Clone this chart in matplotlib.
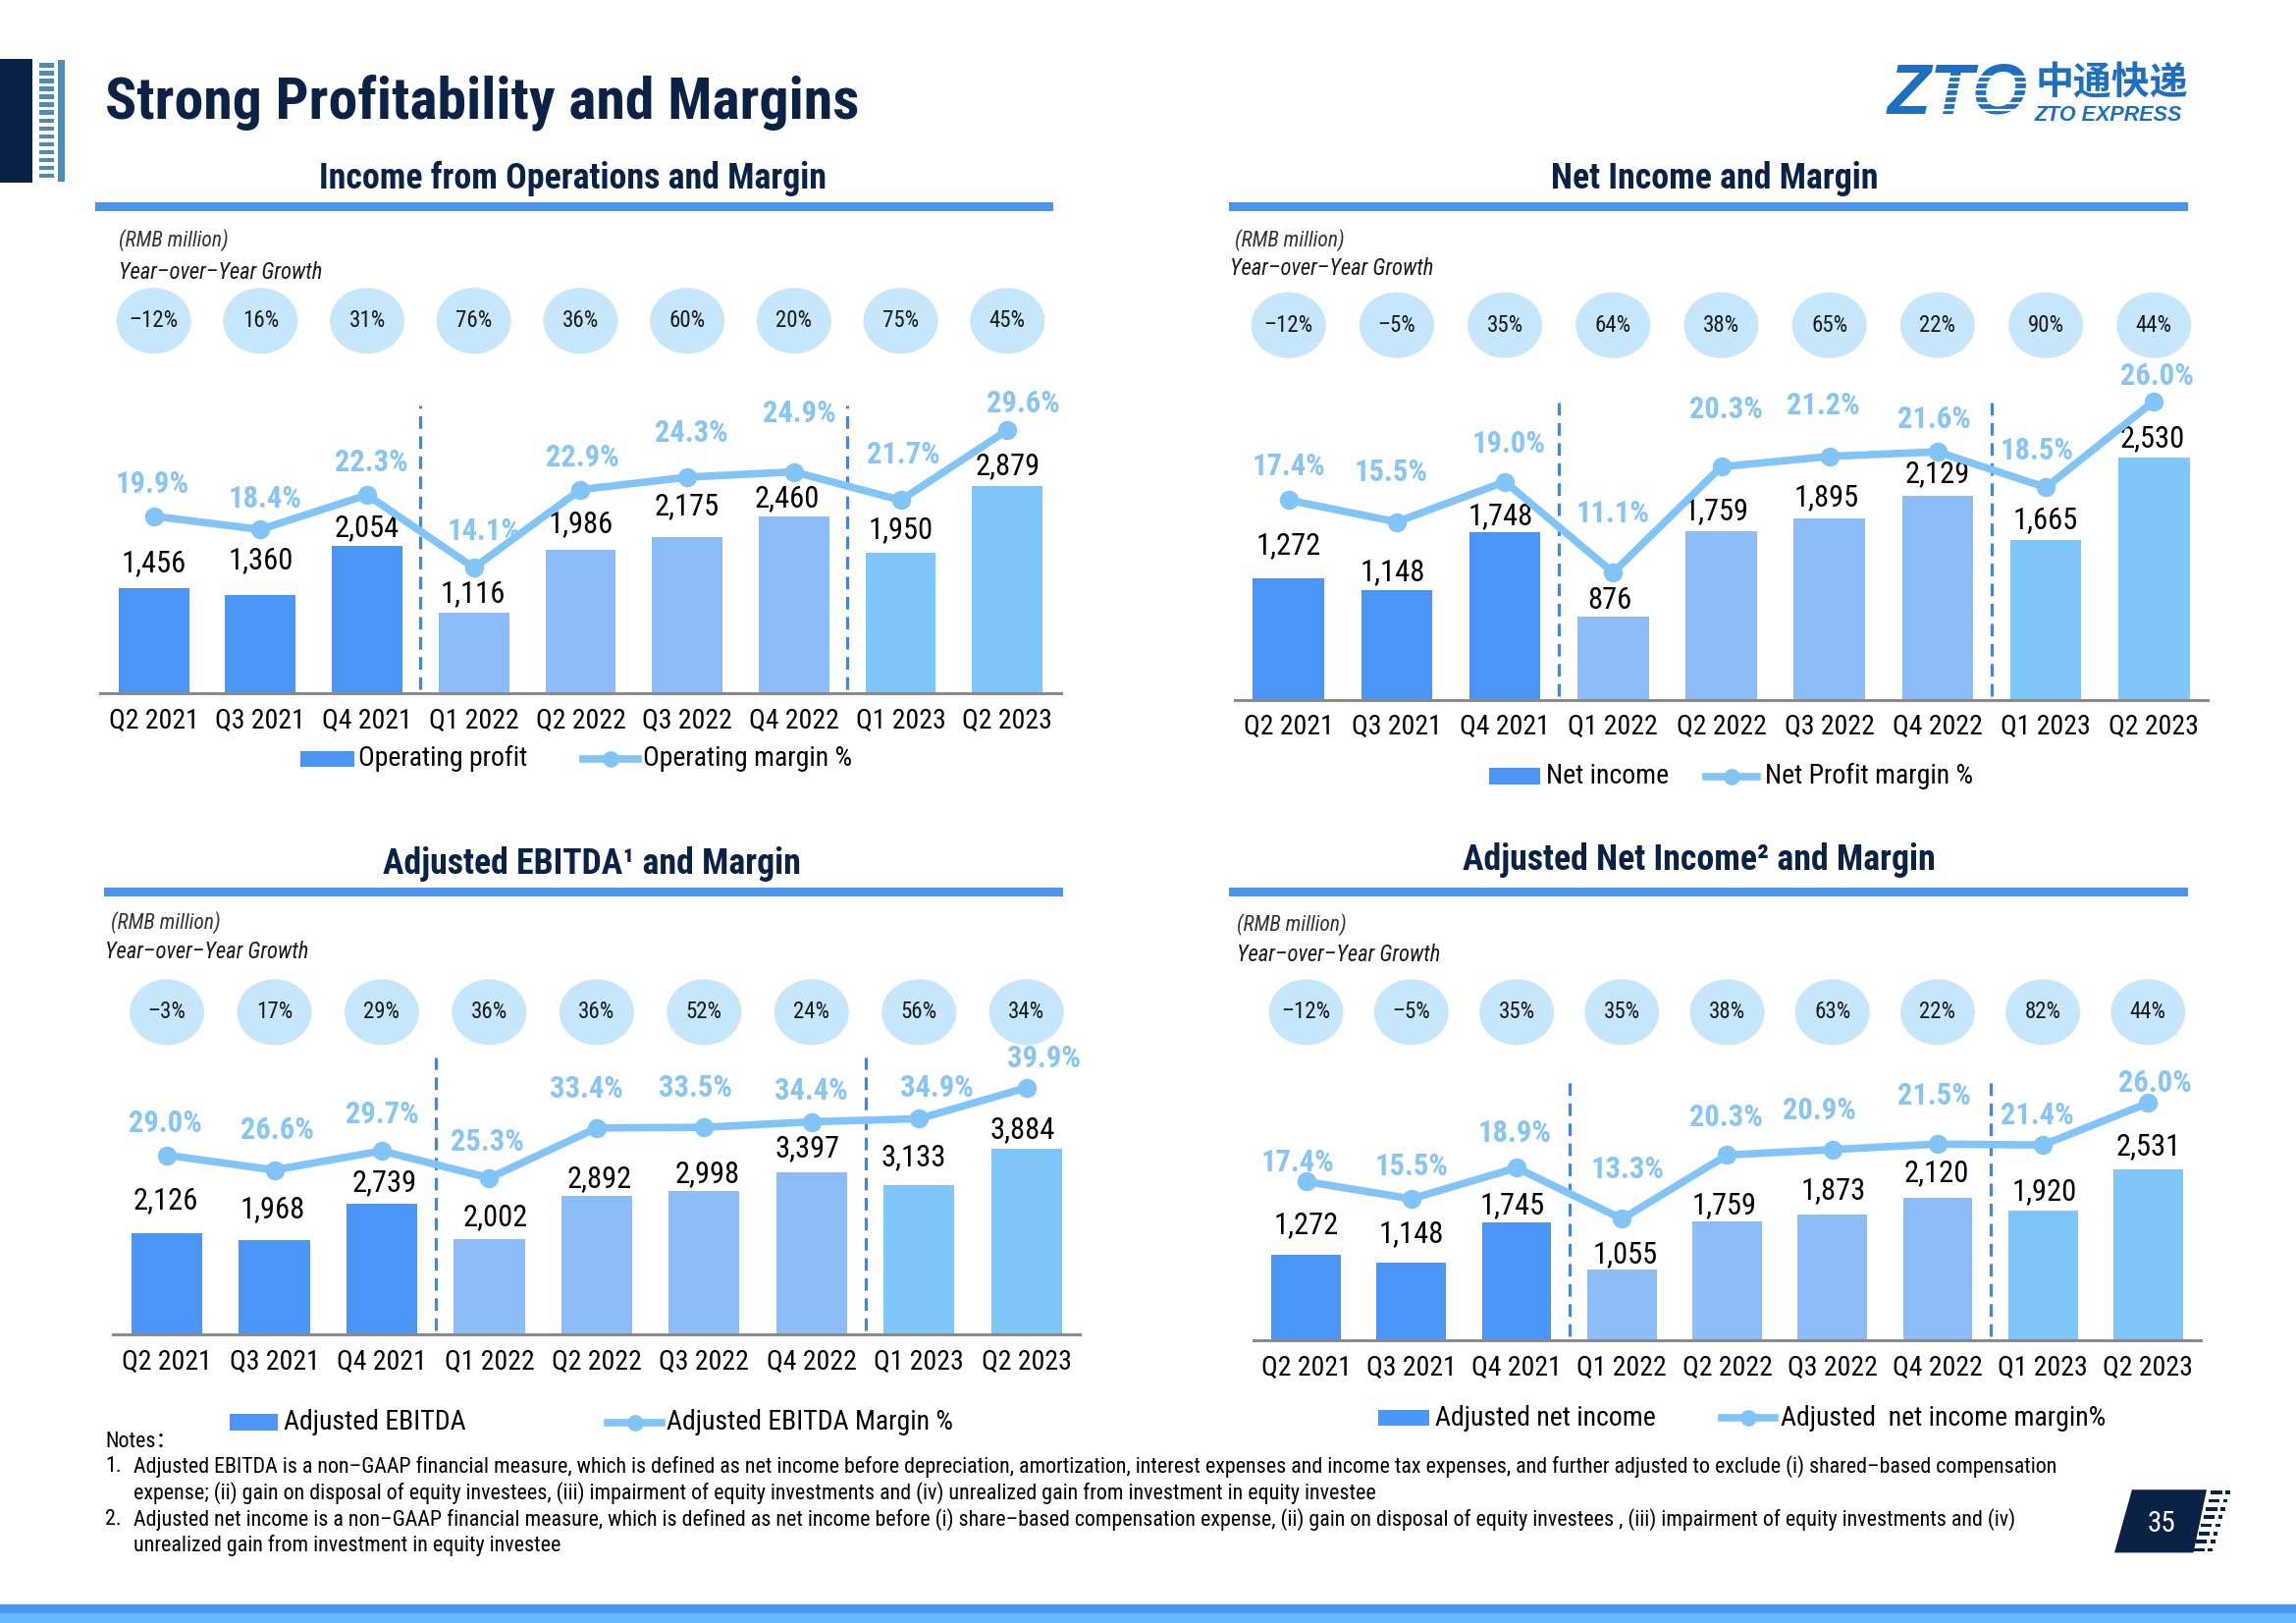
import matplotlib
matplotlib.use("Agg")
import matplotlib.pyplot as plt
from matplotlib import font_manager as fm
from matplotlib.patches import Ellipse, Rectangle, Polygon
from matplotlib.lines import Line2D
from matplotlib.transforms import blended_transform_factory as blend

# ---------------- data ----------------
quarters = ["Q2 2021", "Q3 2021", "Q4 2021", "Q1 2022", "Q2 2022",
            "Q3 2022", "Q4 2022", "Q1 2023", "Q2 2023"]

op_profit = [1456, 1360, 2054, 1116, 1986, 2175, 2460, 1950, 2879]
op_margin = [19.9, 18.4, 22.3, 14.1, 22.9, 24.3, 24.9, 21.7, 29.6]
op_yoy = ["–12%", "16%", "31%", "76%", "36%", "60%", "20%", "75%", "45%"]

net_income = [1272, 1148, 1748, 876, 1759, 1895, 2129, 1665, 2530]
net_margin = [17.4, 15.5, 19.0, 11.1, 20.3, 21.2, 21.6, 18.5, 26.0]
net_yoy = ["–12%", "–5%", "35%", "64%", "38%", "65%", "22%", "90%", "44%"]

ebitda = [2126, 1968, 2739, 2002, 2892, 2998, 3397, 3133, 3884]
ebitda_margin = [29.0, 26.6, 29.7, 25.3, 33.4, 33.5, 34.4, 34.9, 39.9]
ebitda_yoy = ["–3%", "17%", "29%", "36%", "36%", "52%", "24%", "56%", "34%"]

adj_ni = [1272, 1148, 1745, 1055, 1759, 1873, 2120, 1920, 2531]
adj_ni_margin = [17.4, 15.5, 18.9, 13.3, 20.3, 20.9, 21.5, 21.4, 26.0]
adj_ni_yoy = ["–12%", "–5%", "35%", "35%", "38%", "63%", "22%", "82%", "44%"]

notes = [
    ("1.", "Adjusted EBITDA is a non–GAAP financial measure, which is defined as net income before depreciation, amortization, interest expenses and income tax expenses, and further adjusted to exclude (i) shared–based compensation"),
    ("", "expense; (ii) gain on disposal of equity investees, (iii) impairment of equity investments and (iv) unrealized gain from investment in equity investee"),
    ("2.", "Adjusted net income is a non–GAAP financial measure, which is defined as net income before (i) share–based compensation expense, (ii) gain on disposal of equity investees , (iii) impairment of equity investments and (iv)"),
    ("", "unrealized gain from investment in equity investee"),
]

# ---------------- fonts ----------------
names = {f.name for f in fm.fontManager.ttflist}
narrow = [n for n in ["Liberation Sans Narrow", "Arial Narrow", "Roboto Condensed"] if n in names]
if narrow:
    FONT, SZ = narrow[0], 1.0
else:
    FONT, SZ = ("Liberation Sans" if "Liberation Sans" in names else "DejaVu Sans"), 0.82
plt.rcParams["font.family"] = [FONT, "Noto Sans CJK SC", "DejaVu Sans"]

# ---------------- styles ----------------
NAVY = "#0B2247"
DARK = "#4A95F6"
LIGHT = "#8DBDF8"
LIGHTEST = "#7FC6FB"
LINE = "#80C4F8"
MLAB = "#86C5F4"
BUBBLE = "#C6E7FB"
RULE = "#4A94F0"
DASH = "#3E86E8"
LOGO = "#1E6FC0"
bar_colors = [DARK] * 3 + [LIGHT] * 4 + [LIGHTEST] * 2

W, H = 1568.0, 1108.0          # layout units (reference coordinates)
K = 2339 / W * 0.72            # layout unit -> points

fig = plt.figure(figsize=(23.39, 16.53), dpi=100)
fig.patch.set_facecolor("white")


def ftext(x, y, s, size, ha="center", va="center", **kw):
    fig.text(x / W, 1 - y / H, s, fontsize=size * SZ, ha=ha, va=va, **kw)


def frect(x0, y0, x1, y1, color, z=1):
    fig.add_artist(Rectangle((x0 / W, 1 - y1 / H), (x1 - x0) / W, (y1 - y0) / H,
                             transform=fig.transFigure, facecolor=color,
                             edgecolor="none", zorder=z))


# ---------------- header ----------------
frect(0, 40, 22, 125, NAVY)
for k in range(15):
    y0 = 43 + k * 5.4
    frect(27, y0, 37, y0 + 3.0, "#4E8BB5")
frect(39.5, 41, 44, 124, "#4B8FBA")
ftext(72, 70, "Strong Profitability and Margins", 43, ha="left",
      color=NAVY, fontweight="bold")

# logo
ftext(1337, 65, "ZTO", 52, color=LOGO, fontweight="bold", style="italic",
      family=["Liberation Sans", "DejaVu Sans"])
for k in range(7):
    yy = 52 + k * 4.6
    fig.add_artist(Line2D([1325 / W, 1388 / W], [1 - yy / H] * 2,
                          transform=fig.transFigure, color="white", lw=1.6,
                          zorder=6))
ftext(1442, 57, "中通快递", 28, color=LOGO, fontweight="bold",
      family=["Noto Sans CJK SC"])
ftext(1440, 79, "ZTO EXPRESS", 15.5, color=LOGO, fontweight="bold",
      style="italic", family=["Liberation Sans", "DejaVu Sans"])

# ---------------- panels ----------------
panels = [
    dict(values=op_profit, margins=op_margin, yoy=op_yoy,
         title="Income from Operations and Margin", title_xy=(391, 122),
         rule=(65, 719, 141), rmb=(81, 164), yoyl=(81, 186), bub_y=219,
         x0=105, x1=688, base=473, bar_scale=0.049, m_scale=6.06, dash_top=277,
         tick_y=492, leg_y=518, leg=(205, 242, 245, 398, 436, 439),
         leg_names=("Operating profit", "Operating margin %"),
         bdx=[0, 0, 0, -1, 0, 0, -5, 0, 0], bdy=[17, 24, 12, 13, 18, 21, 12, 16, 14],
         mdx=[-1, 3, 3, 7, 1, 3, 4, 2, 11], mdy=[22, 21, 22, 25, 22, 30, 40, 31, 18]),
    dict(values=net_income, margins=net_margin, yoy=net_yoy,
         title="Net Income and Margin", title_xy=(1171, 122),
         rule=(839, 1494, 141), rmb=(843, 164), yoyl=(840, 183), bub_y=222,
         x0=880, x1=1471, base=478, bar_scale=0.0655, m_scale=7.85, dash_top=272,
         tick_y=496, leg_y=530, leg=(1017, 1052, 1056, 1165, 1200, 1205),
         leg_names=("Net income", "Net Profit margin %"),
         bdx=[0, -3, -3, -2, -3, -2, 0, 0, -1], bdy=[22, 12, 11, 11, 14, 14, 15, 14, 13],
         mdx=[0, -4, 3, 0, 3, -4, -2, -6, 2], mdy=[23, 34, 26, 40, 39, 35, 22, 25, 17]),
    dict(values=ebitda, margins=ebitda_margin, yoy=ebitda_yoy,
         title="Adjusted EBITDA¹ and Margin", title_xy=(404, 590),
         rule=(71, 726, 609), rmb=(76, 630), yoyl=(72, 650), bub_y=691,
         x0=114, x1=701, base=911, bar_scale=0.0326, m_scale=4.22, dash_top=722,
         tick_y=930, leg_y=971, leg=(157, 190, 194, 415, 452, 455),
         leg_names=("Adjusted EBITDA", "Adjusted EBITDA Margin %"),
         bdx=[-1, -1, 2, 4, 2, 2, -3, -4, -3], bdy=[22, 21, 14, 15, 12, 12, 16, 19, 13],
         mdx=[-1, 2, 0, -1, -7, -6, 0, 12, 12], mdy=[22, 27, 25, 25, 27, 27, 21, 21, 20]),
    dict(values=adj_ni, margins=adj_ni_margin, yoy=adj_ni_yoy,
         title="Adjusted Net Income² and Margin", title_xy=(1160, 587),
         rule=(839, 1494, 609), rmb=(845, 631), yoyl=(845, 652), bub_y=691,
         x0=892, x1=1467, base=915, bar_scale=0.046, m_scale=6.23, dash_top=735,
         tick_y=934, leg_y=968, leg=(941, 976, 980, 1176, 1212, 1216),
         leg_names=("Adjusted net income", "Adjusted  net income margin%"),
         bdx=[0, 0, -3, 2, -2, 1, -1, 1, 0], bdy=[20, 20, 12, 10, 11, 16, 17, 13, 16],
         mdx=[-6, 0, -1, 4, -1, -9, -2, -4, 5], mdy=[13, 22, 24, 34, 26, 27, 33, 20, 14]),
]

AH = 250.0
for p in panels:
    vals, mars = p["values"], p["margins"]
    n = len(quarters)
    s = (p["x1"] - p["x0"]) / (n - 1)
    base = p["base"]
    ax = fig.add_axes([(p["x0"] - s / 2) / W, 1 - base / H, n * s / W, AH / H])
    ax.set_xlim(-0.5, n - 0.5)
    ax.set_ylim(0, AH / p["bar_scale"])
    ax2 = ax.twinx()
    ax2.set_ylim(0, AH / p["m_scale"])
    for a in (ax, ax2):
        a.patch.set_visible(False)
        for sp in a.spines.values():
            sp.set_visible(False)
        a.set_yticks([])
        a.set_xticks([])
    ax.spines["bottom"].set_visible(True)
    ax.spines["bottom"].set_color("#8A8A8A")
    ax.spines["bottom"].set_linewidth(2.2)

    xs = list(range(n))
    ax.bar(xs, vals, width=0.66, color=bar_colors, zorder=2)

    bt = blend(ax.transData, ax.transAxes)
    top_frac = (base - p["dash_top"]) / AH
    for xd in (2.5, 6.5):
        ax.plot([xd, xd], [0.01, top_frac], transform=bt, color=DASH, lw=2.3,
                dashes=(4, 2.4), zorder=1, clip_on=False)

    ax2.plot(xs, mars, color=LINE, lw=5.5, marker="o", ms=13,
             solid_capstyle="round", zorder=3, clip_on=False)

    for i, v in enumerate(vals):
        ax.annotate(f"{v:,}", xy=(i, v), xytext=(p["bdx"][i] * K, p["bdy"][i] * K),
                    textcoords="offset points", ha="center", va="center",
                    fontsize=22 * SZ, color="black", annotation_clip=False, zorder=5)
    for i, m in enumerate(mars):
        ax2.annotate(f"{m:.1f}%", xy=(i, m), xytext=(p["mdx"][i] * K, p["mdy"][i] * K),
                     textcoords="offset points", ha="center", va="center",
                     fontsize=22 * SZ, color=MLAB, fontweight="bold",
                     annotation_clip=False, zorder=5)

    ft = blend(ax.transData, fig.transFigure)
    for i, q in enumerate(quarters):
        ax.text(i, 1 - p["tick_y"] / H, q, transform=ft, ha="center", va="center",
                fontsize=20 * SZ, color="black", clip_on=False)
    for i, g in enumerate(p["yoy"]):
        ax.add_patch(Ellipse((i, 1 - p["bub_y"] / H), 51 / s, 45 / H, transform=ft,
                             facecolor=BUBBLE, edgecolor="none", clip_on=False))
        ax.text(i, 1 - p["bub_y"] / H, g, transform=ft, ha="center", va="center",
                fontsize=16.5 * SZ, color="#1A1A1A", clip_on=False)

    # titles / rules / captions
    tx, ty = p["title_xy"]
    ftext(tx, ty, p["title"], 25.8, color=NAVY, fontweight="bold")
    rx0, rx1, ry = p["rule"]
    frect(rx0, ry - 2.8, rx1, ry + 2.8, RULE)
    ftext(p["rmb"][0], p["rmb"][1], "(RMB million)", 15.5, ha="left",
          style="italic", color="#333333")
    ftext(p["yoyl"][0], p["yoyl"][1], "Year–over–Year Growth", 16.3, ha="left",
          style="italic", color="#1A1A1A")

    # legend
    r0, r1, t1, l0, l1, t2 = p["leg"]
    ly = p["leg_y"]
    frect(r0, ly - 5.5, r1, ly + 5.5, DARK)
    ftext(t1, ly, p["leg_names"][0], 20, ha="left", color="black")
    fig.add_artist(Line2D([l0 / W, l1 / W], [1 - ly / H] * 2, transform=fig.transFigure,
                          color=LINE, lw=5.5))
    fig.add_artist(Line2D([(l0 + l1) / 2 / W], [1 - ly / H], transform=fig.transFigure,
                          color=LINE, marker="o", ms=11, lw=0))
    ftext(t2, ly, p["leg_names"][1], 20, ha="left", color="black")

# ---------------- notes ----------------
ftext(72, 984, "Notes：", 15.8, ha="left", color="black")
for k, (num, line) in enumerate(notes):
    y = 1001 + k * 18
    if num:
        ftext(72, y, num, 15.8, ha="left", color="black")
    ftext(91, y, line, 15.8, ha="left", color="black")

# ---------------- page number ----------------
fig.add_artist(Polygon([(1456 / W, 1 - 1017 / H), (1507 / W, 1 - 1017 / H),
                        (1498 / W, 1 - 1060 / H), (1444 / W, 1 - 1060 / H)],
                       closed=True, transform=fig.transFigure, facecolor=NAVY,
                       edgecolor="none"))
for k in range(8):
    t = k / 7
    y = 1019 + t * 39
    xs0 = 1510 - t * 12
    frect(xs0, y - 1.2, xs0 + 7.5, y + 1.2, NAVY)
    frect(xs0 + 10, y - 1.2, xs0 + 13, y + 1.2, NAVY)
ftext(1476, 1040, "35", 21, color="white", zorder=7)

# ---------------- bottom band ----------------
frect(0, 1095.4, W, 1101.4, "#4A96F5")
frect(0, 1101.4, W, 1108.5, "#66B7FF")

fig.savefig("out.png", dpi=100, facecolor="white")
